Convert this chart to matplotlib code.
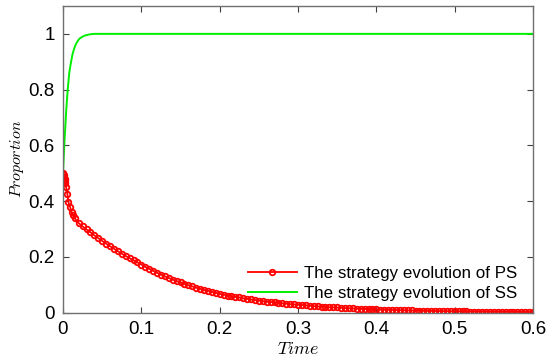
import numpy as np
import matplotlib.pyplot as plt

plt.rcParams['font.family'] = ['Liberation Sans', 'DejaVu Sans']
plt.rcParams['mathtext.fontset'] = 'cm'

# strategy evolution of PS (red, circle markers)
ps_time = [0.0, 0.0005, 0.001, 0.0015, 0.002, 0.0025, 0.003, 0.004, 0.0055, 0.0068,
           0.009, 0.011, 0.013, 0.015, 0.02, 0.025, 0.03, 0.035, 0.04, 0.045,
           0.05, 0.055, 0.06, 0.065, 0.07, 0.075, 0.08, 0.085, 0.09, 0.095,
           0.1, 0.105, 0.11, 0.115, 0.12, 0.125, 0.13, 0.135, 0.14, 0.145,
           0.15, 0.155, 0.16, 0.165, 0.17, 0.175, 0.18, 0.185, 0.19, 0.195,
           0.2, 0.205, 0.21, 0.215, 0.22, 0.225, 0.23, 0.235, 0.24, 0.245,
           0.25, 0.255, 0.26, 0.265, 0.27, 0.275, 0.28, 0.285, 0.29, 0.295,
           0.3, 0.305, 0.31, 0.315, 0.32, 0.325, 0.33, 0.335, 0.34, 0.345,
           0.35, 0.355, 0.36, 0.365, 0.37, 0.375, 0.38, 0.385, 0.39, 0.395,
           0.4, 0.405, 0.41, 0.415, 0.42, 0.425, 0.43, 0.435, 0.44, 0.445,
           0.45, 0.455, 0.46, 0.465, 0.47, 0.475, 0.48, 0.485, 0.49, 0.495,
           0.5, 0.505, 0.51, 0.515, 0.52, 0.525, 0.53, 0.535, 0.54, 0.545,
           0.55, 0.555, 0.56, 0.565, 0.57, 0.575, 0.58, 0.585, 0.59, 0.595,
           0.6]
ps_value = [0.500, 0.497, 0.492, 0.487, 0.480, 0.472, 0.464, 0.450, 0.427, 0.397,
            0.379, 0.361, 0.350, 0.338, 0.321, 0.309, 0.298, 0.288, 0.277, 0.267,
            0.257, 0.247, 0.238, 0.229, 0.220, 0.211, 0.203, 0.195, 0.187, 0.180,
            0.172, 0.164, 0.157, 0.150, 0.143, 0.136, 0.130, 0.124, 0.118, 0.113,
            0.108, 0.103, 0.098, 0.094, 0.089, 0.085, 0.081, 0.078, 0.074, 0.071,
            0.067, 0.064, 0.061, 0.059, 0.056, 0.054, 0.051, 0.049, 0.047, 0.045,
            0.043, 0.041, 0.039, 0.038, 0.036, 0.034, 0.033, 0.032, 0.030, 0.029,
            0.028, 0.027, 0.026, 0.025, 0.023, 0.022, 0.021, 0.020, 0.019, 0.018,
            0.018, 0.017, 0.016, 0.015, 0.015, 0.014, 0.013, 0.013, 0.012, 0.012,
            0.011, 0.0105, 0.010, 0.0095, 0.009, 0.0087, 0.0083, 0.0079, 0.0075, 0.0072,
            0.0068, 0.0065, 0.0062, 0.0059, 0.0056, 0.0054, 0.0051, 0.0049, 0.0047, 0.0045,
            0.0043, 0.0041, 0.0039, 0.0037, 0.0035, 0.0034, 0.0032, 0.0031, 0.0029, 0.0028,
            0.0027, 0.0026, 0.0024, 0.0023, 0.0022, 0.0021, 0.0020, 0.0019, 0.0019, 0.0018,
            0.0017]

# strategy evolution of SS (green line)
ss_time = [0.0, 0.001, 0.002, 0.003, 0.004, 0.005, 0.006, 0.008, 0.01, 0.012,
           0.014, 0.016, 0.018, 0.02, 0.022, 0.025, 0.028, 0.032, 0.036, 0.04,
           0.05, 0.1, 0.2, 0.3, 0.4, 0.5, 0.6]
ss_value = [0.5, 0.56, 0.62, 0.67, 0.72, 0.76, 0.80, 0.86, 0.895, 0.925,
            0.945, 0.96, 0.971, 0.979, 0.985, 0.99, 0.994, 0.997, 0.999, 1.0,
            1.0, 1.0, 1.0, 1.0, 1.0, 1.0, 1.0]

fig = plt.figure(figsize=(5.5, 3.61), dpi=100)
ax = fig.add_axes([63 / 550, 1 - 312.5 / 361, 470 / 550, 306.5 / 361])

ax.plot(ps_time, ps_value, color='red', lw=1.3, marker='o', ms=4.0,
        mfc='none', mew=1.3, label='The strategy evolution of PS')
ax.plot(ss_time, ss_value, color='#00f000', lw=1.4,
        label='The strategy evolution of SS')

ax.set_xlim(0, 0.6)
ax.set_ylim(0, 1.1)
ax.set_xticks([0, 0.1, 0.2, 0.3, 0.4, 0.5, 0.6])
ax.set_xticklabels(['0', '0.1', '0.2', '0.3', '0.4', '0.5', '0.6'])
ax.set_yticks([0, 0.2, 0.4, 0.6, 0.8, 1.0])
ax.set_yticklabels(['0', '0.2', '0.4', '0.6', '0.8', '1'])
ax.tick_params(direction='in', top=True, right=True, labelsize=13.5,
               length=4, width=0.8, color='#404040', pad=6)
for s in ax.spines.values():
    s.set_color('#707070')
    s.set_linewidth(1.0)

ax.set_xlabel('$Time$', fontsize=13, labelpad=2)
ax.set_ylabel('$Proportion$', fontsize=11.5, labelpad=2)

# legend without box, markers stay visible beneath it
ax.legend(loc='lower right', bbox_to_anchor=(0.973, 0.026), fontsize=12.2,
          frameon=False, handlelength=2.9, handletextpad=0.4,
          borderaxespad=0.0, borderpad=0.2, labelspacing=0.3)

fig.savefig('out.png', dpi=100)
